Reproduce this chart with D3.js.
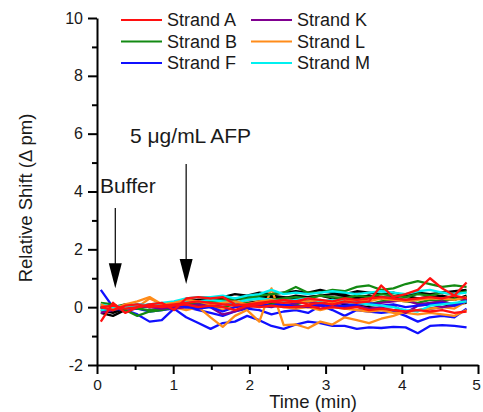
<!DOCTYPE html>
<html>
<head>
<meta charset="utf-8">
<script src="https://cdn.jsdelivr.net/npm/d3@7"></script>
<style>
  body { margin: 0; background: #fff; }
  text { font-family: "Liberation Sans", Arial, sans-serif; fill: #1a1a1a; }
</style>
</head>
<body>
<div class="chart"></div>
<script>
// sample times (min)
const times = [0.05,0.21,0.37,0.53,0.69,0.85,1.01,1.17,1.33,1.49,1.65,1.81,1.97,2.13,2.29,2.45,2.61,2.77,2.93,3.09,3.25,3.41,3.57,3.73,3.89,4.05,4.21,4.37,4.53,4.69,4.85];

// relative shift traces (pm)
const black1 = [-0.2,-0.3,-0.1,0.0,0.05,0.1,0.15,0.2,0.25,0.3,0.35,0.45,0.4,0.5,0.45,0.5,0.55,0.5,0.6,0.5,0.45,0.55,0.5,0.45,0.5,0.4,0.5,0.45,0.5,0.55,0.6];
const black2 = [-0.1,-0.2,-0.05,0.05,0.0,0.1,0.1,0.15,0.2,0.25,0.3,0.3,0.35,0.3,0.4,0.35,0.3,0.35,0.4,0.3,0.35,0.3,0.4,0.35,0.3,0.25,0.3,0.35,0.3,0.25,0.4];
const black3 = [0.0,-0.15,0.0,-0.05,0.05,0.0,0.05,0.1,0.05,0.1,0.15,0.1,0.15,0.2,0.15,0.2,0.25,0.2,0.15,0.2,0.1,0.05,0.0,-0.05,-0.1,-0.15,-0.1,-0.05,0.0,0.1,0.15];
const black4 = [-0.05,0.0,0.05,0.0,0.1,0.05,0.15,0.2,0.25,0.2,0.3,0.25,0.35,0.4,0.35,0.3,0.4,0.35,0.4,0.45,0.4,0.35,0.4,0.3,0.35,0.4,0.3,0.35,0.4,0.3,0.35];
const strandB1 = [0.15,0.1,-0.1,-0.3,-0.15,-0.1,0.0,0.05,0.15,0.2,0.25,0.3,0.3,0.4,0.45,0.5,0.7,0.5,0.5,0.6,0.55,0.7,0.75,0.6,0.65,0.8,0.9,0.8,0.7,0.75,0.7];
const strandB2 = [0.05,0.0,0.1,-0.05,-0.1,-0.05,0.05,0.1,0.15,0.1,0.2,0.15,0.25,0.3,0.25,0.3,0.35,0.3,0.4,0.35,0.3,0.4,0.35,0.45,0.4,0.35,0.45,0.4,0.5,0.45,0.55];
const strandB3 = [0.0,-0.1,0.0,0.05,0.0,0.1,0.05,0.0,0.1,0.05,0.0,0.1,0.15,0.05,0.1,0.15,0.1,0.2,0.15,0.1,0.2,0.15,0.1,0.2,0.25,0.2,0.15,0.25,0.2,0.3,0.25];
const strandF1 = [0.6,0.0,-0.1,-0.25,-0.5,-0.45,-0.05,-0.35,-0.55,-0.75,-0.55,-0.5,-0.3,-0.45,-0.65,-0.75,-0.6,-0.5,-0.55,-0.65,-0.65,-0.75,-0.7,-0.72,-0.68,-0.7,-0.9,-0.65,-0.62,-0.65,-0.7];
const strandF2 = [0.1,-0.05,-0.1,-0.05,-0.15,-0.1,-0.05,0.0,-0.1,-0.2,-0.3,-0.15,-0.05,-0.1,-0.25,-0.15,-0.1,-0.2,0.05,-0.1,-0.3,-0.1,-0.15,-0.2,-0.15,-0.3,-0.5,-0.35,-0.3,-0.35,-0.05];
const strandF3 = [0.0,0.05,0.0,0.05,0.0,0.05,0.1,0.0,-0.05,0.0,-0.15,0.0,0.05,0.1,0.05,0.1,0.0,0.05,0.1,0.0,0.05,0.1,0.15,0.05,0.1,0.0,0.05,0.1,0.15,0.05,0.2];
const strandK1 = [0.0,-0.1,0.0,0.1,0.05,0.0,-0.05,0.0,0.05,0.0,-0.25,-0.15,0.0,0.05,0.0,0.1,0.05,0.0,0.05,0.1,0.0,0.05,-0.05,0.0,0.05,-0.2,0.05,0.1,0.0,0.05,0.3];
const strandK2 = [-0.2,-0.1,0.1,0.05,0.0,-0.05,0.0,0.05,0.1,0.05,0.1,0.15,0.1,0.15,0.2,0.1,0.15,0.2,0.15,0.1,0.15,0.2,0.1,0.15,0.2,0.25,0.1,0.15,0.2,0.1,0.25];
const strandL1 = [0.0,-0.05,0.05,0.0,0.3,0.1,0.15,0.2,0.0,-0.35,-0.68,-0.3,-0.1,-0.5,0.65,-0.62,-0.6,-0.73,-0.5,-0.6,-0.35,-0.45,-0.55,-0.4,-0.3,-0.15,-0.1,-0.05,0.0,-0.05,0.2];
const strandL2 = [0.1,-0.1,0.1,0.2,0.35,0.1,0.15,0.25,0.2,0.1,0.15,0.2,0.1,0.2,0.25,0.15,0.2,0.2,0.25,0.15,0.2,0.25,0.2,0.3,0.25,0.2,0.25,0.3,0.3,0.25,0.35];
const strandL3 = [0.0,0.05,-0.05,0.0,0.05,0.1,0.0,-0.1,0.0,0.05,-0.1,0.0,0.1,0.0,0.05,0.0,-0.05,0.0,-0.1,0.0,-0.05,-0.1,-0.15,-0.1,-0.2,-0.2,-0.25,-0.2,-0.25,-0.3,-0.1];
const strandM1 = [-0.1,-0.05,0.0,0.05,0.1,0.15,0.2,0.3,0.35,0.35,0.4,0.3,0.4,0.45,0.6,0.45,0.5,0.45,0.5,0.55,0.5,0.45,0.5,0.55,0.5,0.45,0.55,0.6,0.5,0.45,0.5];
const strandM2 = [0.1,0.0,0.05,0.1,0.05,0.1,0.15,0.2,0.2,0.25,0.2,0.15,0.25,0.3,0.25,0.2,0.25,0.3,0.2,0.25,0.2,0.15,0.1,0.05,0.0,-0.1,-0.15,0.05,0.1,0.15,0.2];
const strandA2 = [0.0,-0.1,0.05,0.1,0.0,0.05,0.1,0.15,0.2,0.15,0.1,0.05,0.1,0.15,0.2,0.25,0.2,0.3,0.25,0.2,0.3,0.25,0.3,0.35,0.3,0.25,0.3,0.35,0.3,0.4,0.3];
const strandA3 = [0.0,0.05,-0.05,0.0,0.05,0.0,0.05,0.1,0.0,0.05,0.0,-0.1,0.05,0.0,0.05,0.0,0.0,0.05,-0.05,0.0,-0.05,0.0,-0.1,-0.05,-0.1,-0.15,-0.1,-0.15,-0.1,-0.2,-0.15];
const strandA1 = [-0.5,0.15,-0.2,0.0,0.1,0.15,-0.1,0.3,0.35,0.3,0.35,0.1,0.05,0.1,0.2,0.15,0.2,0.1,0.15,0.1,0.2,0.15,0.2,0.75,0.35,0.45,0.6,1.0,0.65,0.4,0.85];

// traces in drawing order, with colours
const traces = [
  { values: black1, color: "#000000" },
  { values: black2, color: "#000000" },
  { values: black3, color: "#000000" },
  { values: black4, color: "#000000" },
  { values: strandF1, color: "#1010ff" },
  { values: strandF2, color: "#1010ff" },
  { values: strandL1, color: "#ff8c1a" },
  { values: strandL3, color: "#ff8c1a" },
  { values: strandB1, color: "#138a13" },
  { values: strandB2, color: "#138a13" },
  { values: strandB3, color: "#138a13" },
  { values: strandK1, color: "#800090" },
  { values: strandK2, color: "#800090" },
  { values: strandF3, color: "#1010ff" },
  { values: strandM1, color: "#00f0f0" },
  { values: strandM2, color: "#00f0f0" },
  { values: strandL2, color: "#ff8c1a" },
  { values: strandA3, color: "#ff1010" },
  { values: strandA2, color: "#ff1010" },
  { values: strandA1, color: "#ff1010" }
];

// legend
const legendNames = ["Strand A", "Strand B", "Strand F", "Strand K", "Strand L", "Strand M"];
const legendColors = ["#ff1010", "#138a13", "#1010ff", "#800090", "#ff8c1a", "#00f0f0"];

// axis ticks
const xTicks = [0, 1, 2, 3, 4, 5];
const yTicks = [-2, 0, 2, 4, 6, 8, 10];

// annotations: label, arrow time, arrow top, arrow tip (data units)
const notes = [
  { label: "Buffer", t: 0.24, top: 3.43, tip: 0.65 },
  { label: "5 \u03bcg/mL AFP", t: 1.17, top: 4.95, tip: 0.8 }
];

const W = 483, H = 412;
const M = { left: 97, right: 5, top: 18, bottom: 47 };

const svg = d3.select(".chart").append("svg").attr("width", W).attr("height", H);

const x = d3.scaleLinear().domain([0, 5]).range([M.left, W - M.right]);
const y = d3.scaleLinear().domain([-2, 10]).range([H - M.bottom, M.top]);

// minor ticks
svg.append("g")
  .attr("transform", `translate(0, ${H - M.bottom})`)
  .call(d3.axisBottom(x).tickValues(d3.range(0.5, 5, 1)).tickSize(5).tickFormat(""))
  .call(g => g.select(".domain").remove())
  .selectAll("line").attr("stroke-width", 2);
svg.append("g")
  .attr("transform", `translate(${M.left}, 0)`)
  .call(d3.axisLeft(y).tickValues(d3.range(-1, 10, 2)).tickSize(5).tickFormat(""))
  .call(g => g.select(".domain").remove())
  .selectAll("line").attr("stroke-width", 2);

// X axis
const xAxis = svg.append("g")
  .attr("transform", `translate(0, ${H - M.bottom})`)
  .call(d3.axisBottom(x).tickValues(xTicks).tickSize(9).tickSizeOuter(0).tickPadding(5).tickFormat(d => String(d)));
xAxis.select(".domain").attr("stroke-width", 2);
xAxis.selectAll("line").attr("stroke-width", 2);
xAxis.selectAll("text").attr("font-size", 15.5).attr("font-family", "Liberation Sans, Arial, sans-serif").attr("fill", "#1a1a1a");
xAxis.selectAll(".tick:last-of-type text").attr("dx", -2);

// Y axis
const yAxis = svg.append("g")
  .attr("transform", `translate(${M.left}, 0)`)
  .call(d3.axisLeft(y).tickValues(yTicks).tickSize(9).tickSizeOuter(0).tickPadding(5).tickFormat(d => String(d)));
yAxis.select(".domain").attr("stroke-width", 2);
yAxis.selectAll("line").attr("stroke-width", 2);
yAxis.selectAll("text").attr("font-size", 16).attr("font-family", "Liberation Sans, Arial, sans-serif").attr("fill", "#1a1a1a");

// axis labels
svg.append("text")
  .attr("x", 313)
  .attr("y", 408)
  .attr("text-anchor", "middle")
  .attr("font-size", 18.5)
  .text("Time (min)");

svg.append("text")
  .attr("transform", "rotate(-90)")
  .attr("x", -198)
  .attr("y", 32)
  .attr("text-anchor", "middle")
  .attr("font-size", 18.5)
  .text("Relative Shift (\u0394 pm)");

// traces
const line = d3.line()
  .x((d, i) => x(times[i]))
  .y(d => y(d));

svg.append("g").selectAll("path")
  .data(traces)
  .join("path")
  .attr("fill", "none")
  .attr("stroke", d => d.color)
  .attr("stroke-width", 2.3)
  .attr("stroke-linejoin", "round")
  .attr("d", d => line(d.values));

// annotations
notes.forEach(n => {
  const ax = x(n.t);
  const tipY = y(n.tip);
  svg.append("line")
    .attr("x1", ax).attr("x2", ax)
    .attr("y1", y(n.top)).attr("y2", tipY - 20)
    .attr("stroke", "#000").attr("stroke-width", 1.2);
  svg.append("path")
    .attr("d", `M${ax - 6.5},${tipY - 25} L${ax + 6.5},${tipY - 25} L${ax},${tipY} Z`)
    .attr("fill", "#000");
});

svg.append("text")
  .attr("x", 100).attr("y", 193)
  .attr("font-size", 21)
  .text(notes[0].label);
svg.append("text")
  .attr("x", 130).attr("y", 143)
  .attr("font-size", 21)
  .text(notes[1].label);

// legend
const legend = svg.append("g");
legendNames.forEach((name, i) => {
  const col = Math.floor(i / 3), row = i % 3;
  const lx = 121 + col * 130, ly = 20 + row * 21.5;
  legend.append("line")
    .attr("x1", lx).attr("x2", lx + 41)
    .attr("y1", ly).attr("y2", ly)
    .attr("stroke", legendColors[i]).attr("stroke-width", 2);
  legend.append("text")
    .attr("x", lx + 46).attr("y", ly + 6)
    .attr("font-size", 18)
    .text(name);
});
</script>
</body>
</html>
